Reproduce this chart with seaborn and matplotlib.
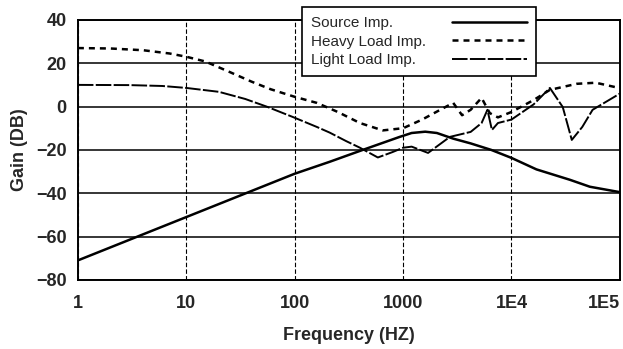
import numpy as np
import pandas as pd
import matplotlib
matplotlib.use("Agg")
import matplotlib.pyplot as plt
import seaborn as sns

# values (frequency in Hz, gain in dB)
source_freq = [1, 10, 100, 210, 425, 930, 1200, 1600, 2050, 2900, 4200, 6500, 10000,
               17000, 34600, 52800, 100000]
source_gain = [-71, -51, -31, -25.5, -20, -14, -12.2, -11.6, -12.2, -14.8, -17, -20,
               -23.7, -29, -33.8, -37, -39.5]

heavy_freq = [1, 2, 4, 7, 10, 15, 25, 40, 60, 100, 160, 250, 400, 650, 1000, 1500,
              2200, 2900, 3500, 4200, 5300, 6300, 7500, 10000, 16000, 22600, 40000,
              60000, 100000]
heavy_gain = [27, 26.8, 26, 24.5, 23, 20.8, 16, 11.5, 8, 4.5, 1.7, -2.5, -7.6, -11,
              -10, -6, -1.5, 1.7, -4, -1.5, 4, -3, -5, -2.5, 3, 7.7, 10.5, 11, 8.5]

light_freq = [1, 3, 6, 10, 20, 35, 55, 96, 160, 210, 300, 400, 585, 800, 1000, 1200,
              1700, 2700, 4200, 5300, 6000, 6600, 7500, 10000, 16000, 22600, 29700,
              36000, 45000, 56000, 100000]
light_gain = [10, 9.9, 9.5, 8.6, 6.8, 3.5, 0, -4.8, -9.4, -12, -16, -19, -23.5, -21,
              -19, -18.5, -21.4, -14, -11.7, -7.6, -1.5, -10.8, -7.6, -6, 1, 8.6, -0.2,
              -15.4, -9.4, -1.5, 6]

x_ticks = [1, 10, 100, 1000, 1e4, 1e5]
x_labels = ["1", "10", "100", "1000", "1E4", "1E5"]
y_ticks = [-80, -60, -40, -20, 0, 20, 40]

sns.set_theme(style="white")
plt.rcParams["font.family"] = ["Liberation Sans", "DejaVu Sans"]

fig = plt.figure(figsize=(6.23, 3.49), dpi=100)
ax = fig.add_axes([0.125, 0.198, 0.87, 0.745])

src = pd.DataFrame({"f": source_freq, "g": source_gain})
hvy = pd.DataFrame({"f": heavy_freq, "g": heavy_gain})
lgt = pd.DataFrame({"f": light_freq, "g": light_gain})

sns.lineplot(data=src, x="f", y="g", ax=ax, color="black", lw=1.8,
             estimator=None, label="Source Imp.")
sns.lineplot(data=hvy, x="f", y="g", ax=ax, color="black", lw=1.8,
             estimator=None, label="Heavy Load Imp.")
sns.lineplot(data=lgt, x="f", y="g", ax=ax, color="black", lw=1.4,
             estimator=None, label="Light Load Imp.")
lines = ax.get_lines()
lines[1].set_dashes((2.4, 2.0))
lines[2].set_dashes((8, 1.2))

ax.set_xscale("log")
ax.set_xlim(1, 1e5)
ax.set_ylim(-80, 40)
ax.set_xticks(x_ticks)
ax.set_xticklabels(x_labels)
ax.xaxis.set_minor_locator(matplotlib.ticker.NullLocator())
ax.set_yticks(y_ticks)
ax.tick_params(axis="both", labelsize=13, length=0)
ax.tick_params(axis="x", pad=11)
ax.tick_params(axis="y", pad=8)
for t in ax.get_xticklabels() + ax.get_yticklabels():
    t.set_fontweight("bold")
ax.get_xticklabels()[-1].set_horizontalalignment("right")

for y in y_ticks:
    ax.axhline(y, color="black", lw=1.1, zorder=0)
for x in x_ticks:
    ax.axvline(x, color="black", lw=0.8, ls=(0, (4, 2)), zorder=0)
for s in ax.spines.values():
    s.set_color("black")
    s.set_linewidth(1.4)

ax.set_xlabel("Frequency (HZ)", fontsize=13, fontweight="bold", labelpad=11)
ax.set_ylabel("Gain (DB)", fontsize=13, fontweight="bold", labelpad=6)

handles, labels = ax.get_legend_handles_labels()
ax.get_legend().remove()
leg = fig.legend(handles, labels, loc="upper left",
                 bbox_to_anchor=(0.485, 0.98), borderaxespad=0,
                 markerfirst=False, handlelength=4.9, handletextpad=1.7,
                 fontsize=11, frameon=True, fancybox=False, edgecolor="black",
                 framealpha=1, labelspacing=0.3, borderpad=0.6)
leg.get_frame().set_linewidth(1.2)

# left-align the labels: widen the gap between short labels and their line samples
fig.canvas.draw()
widths = [t.get_window_extent().width * 72 / fig.dpi for t in leg.get_texts()]
items = [ib for col in leg._legend_handle_box.get_children() for ib in col.get_children()]
for ib, w in zip(items, widths):
    ib.sep = ib.sep + (max(widths) - w)

fig.savefig("out.png", dpi=100)
